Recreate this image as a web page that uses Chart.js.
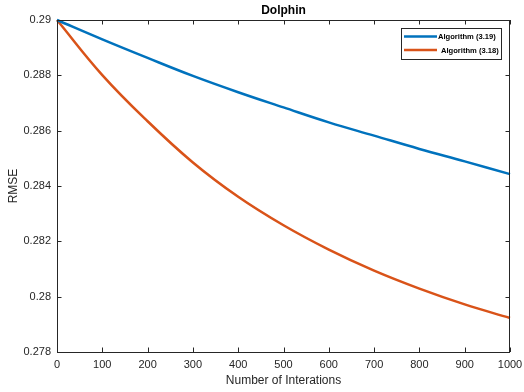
<!DOCTYPE html>
<html>
<head>
<meta charset="utf-8">
<script src="https://cdn.jsdelivr.net/npm/chart.js@4.4.1/dist/chart.umd.min.js"></script>
<style>
  html, body { margin: 0; padding: 0; background: #fff; }
  #wrap { width: 524px; height: 392px; }
</style>
</head>
<body>
<div id="wrap"><canvas id="chart" width="524" height="392"></canvas></div>
<script>
// values
const iterations = [0, 100, 200, 300, 400, 500, 600, 700, 800, 900, 1000];
const alg319 = [0.29, 0.28930, 0.28863, 0.28798, 0.28739, 0.28684, 0.28630, 0.28582, 0.28534, 0.28489, 0.28443];
const alg318 = [0.29, 0.28801, 0.28634, 0.28485, 0.28361, 0.28258, 0.28170, 0.28094, 0.28029, 0.27972, 0.27923];
const seriesNames = ['Algorithm (3.19)', 'Algorithm (3.18)'];
const seriesColors = ['#0072BD', '#D95319'];

const FONT = "'Liberation Sans', Arial, Helvetica, sans-serif";
const AXIS_COLOR = '#262626';

function toPoints(ys) {
  return iterations.map((x, i) => ({ x: x, y: ys[i] }));
}

// matlab style box, inward ticks, title, axis labels and legend
const matlabAxes = {
  id: 'matlabAxes',
  afterDraw(chart) {
    const ctx = chart.ctx;
    const { left, right, top, bottom } = chart.chartArea;
    const xs = chart.scales.x, ys = chart.scales.y;
    const tl = 4.5;

    ctx.save();
    ctx.strokeStyle = AXIS_COLOR;
    ctx.lineWidth = 1;
    ctx.strokeRect(left + 0.5, top + 0.5, right - left - 1, bottom - top);

    ctx.beginPath();
    xs.ticks.forEach(t => {
      const px = Math.round(xs.getPixelForValue(t.value)) + 0.5;
      ctx.moveTo(px, bottom); ctx.lineTo(px, bottom - tl);
      ctx.moveTo(px, top); ctx.lineTo(px, top + tl);
    });
    ys.ticks.forEach(t => {
      const py = Math.round(ys.getPixelForValue(t.value)) + 0.5;
      ctx.moveTo(left, py); ctx.lineTo(left + tl, py);
      ctx.moveTo(right, py); ctx.lineTo(right - tl, py);
    });
    ctx.stroke();

    // title
    const cx = (left + right) / 2;
    ctx.fillStyle = '#000';
    ctx.textAlign = 'center';
    ctx.textBaseline = 'middle';
    ctx.font = 'bold 12px ' + FONT;
    ctx.fillText('Dolphin', cx, 11);

    // axis labels
    ctx.fillStyle = AXIS_COLOR;
    ctx.font = '12px ' + FONT;
    ctx.fillText('Number of Interations', cx, 381);
    ctx.save();
    ctx.translate(14, (top + bottom) / 2);
    ctx.rotate(-Math.PI / 2);
    ctx.fillText('RMSE', 0, 0);
    ctx.restore();

    // legend
    const lx = 401, ly = 28, lw = 100, lh = 31;
    ctx.fillStyle = '#fff';
    ctx.fillRect(lx, ly, lw, lh);
    ctx.strokeStyle = '#262626';
    ctx.lineWidth = 1;
    ctx.strokeRect(lx + 0.5, ly + 0.5, lw, lh);
    ctx.font = 'bold 7.6px ' + FONT;
    ctx.textAlign = 'left';
    ctx.textBaseline = 'middle';
    chart.data.datasets.forEach((ds, i) => {
      const yy = ly + 8.5 + i * 13.5;
      ctx.strokeStyle = ds.borderColor;
      ctx.lineWidth = 2.5;
      ctx.beginPath();
      ctx.moveTo(lx + 3, yy);
      ctx.lineTo(lx + 36, yy);
      ctx.stroke();
      ctx.fillStyle = '#000';
      ctx.fillText(ds.label, lx + 37 + i * 3, yy + 0.5);
    });
    ctx.restore();
  }
};

new Chart(document.getElementById('chart'), {
  type: 'line',
  data: {
    datasets: seriesNames.map((name, i) => ({
      label: name,
      data: toPoints(i === 0 ? alg319 : alg318),
      borderColor: seriesColors[i],
      backgroundColor: seriesColors[i],
      borderWidth: 2.5,
      pointRadius: 0,
      tension: 0.4,
      fill: false,
      clip: false
    }))
  },
  options: {
    responsive: false,
    animation: false,
    events: [],
    layout: { padding: { top: 20, right: 14, left: 0, bottom: 0 } },
    plugins: {
      legend: { display: false },
      title: { display: false },
      tooltip: { enabled: false }
    },
    scales: {
      x: {
        type: 'linear',
        min: 0,
        max: 1000,
        grid: { display: false },
        border: { display: false },
        ticks: {
          stepSize: 100,
          maxRotation: 0,
          autoSkip: false,
          padding: -2,
          color: AXIS_COLOR,
          font: { family: FONT, size: 11 },
          callback: v => String(v)
        },
        afterFit: s => { s.height = 40; }
      },
      y: {
        type: 'linear',
        min: 0.278,
        max: 0.29,
        grid: { display: false },
        border: { display: false },
        ticks: {
          stepSize: 0.002,
          padding: -2,
          color: AXIS_COLOR,
          font: { family: FONT, size: 11 },
          callback: v => String(Number(v.toFixed(3)))
        },
        afterFit: s => { s.width = 57; }
      }
    }
  },
  plugins: [matlabAxes]
});
</script>
</body>
</html>
